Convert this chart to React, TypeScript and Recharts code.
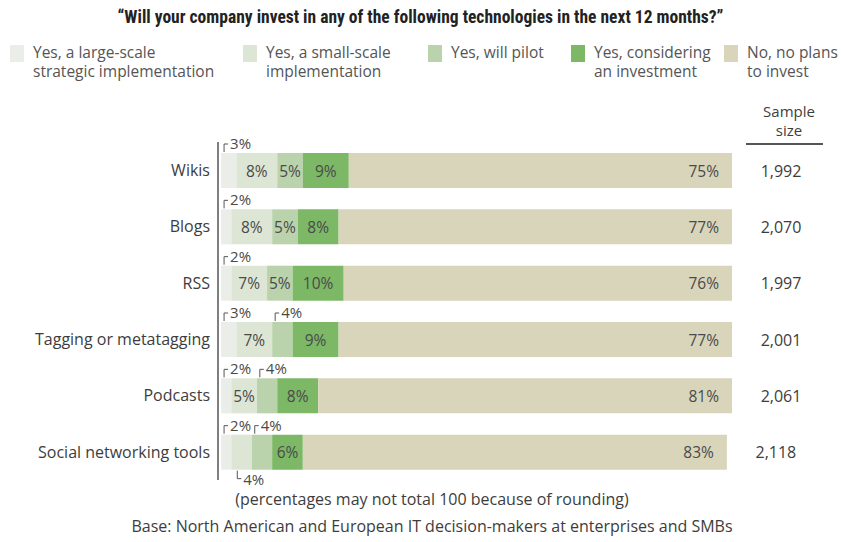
import React from 'react';
import { BarChart, Bar, XAxis, YAxis, LabelList } from 'recharts';

const categories = ['Wikis', 'Blogs', 'RSS', 'Tagging or metatagging', 'Podcasts', 'Social networking tools'];
const largeScale = [3, 2, 2, 3, 2, 2];
const smallScale = [8, 8, 7, 7, 5, 4];
const willPilot = [5, 5, 5, 4, 4, 4];
const considering = [9, 8, 10, 9, 8, 6];
const noPlans = [75, 77, 76, 77, 81, 83];
const sampleSizes = ['1,992', '2,070', '1,997', '2,001', '2,061', '2,118'];

const SERIES = [
  { key: 'large', name: 'Yes, a large-scale\nstrategic implementation', color: '#ebeee8' },
  { key: 'small', name: 'Yes, a small-scale\nimplementation', color: '#dde6d5' },
  { key: 'pilot', name: 'Yes, will pilot', color: '#bad3ac' },
  { key: 'consider', name: 'Yes, considering\nan investment', color: '#7cb866' },
  { key: 'no', name: 'No, no plans\nto invest', color: '#d8d5bb' },
];

const data = categories.map((name, i) => ({
  name,
  large: largeScale[i],
  small: smallScale[i],
  pilot: willPilot[i],
  consider: considering[i],
  no: noPlans[i],
  sample: sampleSizes[i],
}));

const FONT = '"Open Sans", "Noto Sans", sans-serif';
const TEXT = '#3d3d3d';
const SMALL = 5; // below this a label goes outside the bar

// small labels go above the bar, unless the segment before was also put above
const placement = (row: any, idx: number): 'in' | 'up' | 'down' => {
  const keys = SERIES.map(s => s.key);
  let prev: 'in' | 'up' | 'down' | null = null;
  for (let k = 0; k <= idx; k++) {
    const v = row[keys[k]];
    let p: 'in' | 'up' | 'down' = v >= SMALL ? 'in' : 'up';
    if (p === 'up' && prev === 'up') p = 'down';
    prev = p;
  }
  return prev as any;
};

const makeLabel = (seriesIdx: number) => (props: any) => {
  const { x, y, width, height, value, index } = props;
  const row = data[index];
  const where = placement(row, seriesIdx);
  const txt = `${value}%`;
  if (where === 'in') {
    const isLast = seriesIdx === SERIES.length - 1;
    return (
      <text
        x={isLast ? x + width - 13 : x + width / 2}
        y={y + height / 2}
        textAnchor={isLast ? 'end' : 'middle'}
        dominantBaseline="central"
        fontSize={15.5}
        fontFamily={FONT}
        fill="#4a4a4a"
      >
        {txt}
      </text>
    );
  }
  if (where === 'up') {
    const bx = x + 3;
    return (
      <g>
        <path d={`M${bx},${y - 1} V${y - 9} H${bx + 4}`} stroke="#555" strokeWidth={1} fill="none" />
        <text x={bx + 6} y={y - 4} fontSize={15} fontFamily={FONT} fill="#4a4a4a">{txt}</text>
      </g>
    );
  }
  const bx = x + 6;
  const by = y + height;
  return (
    <g>
      <path d={`M${bx},${by + 1} V${by + 9} H${bx + 4}`} stroke="#555" strokeWidth={1} fill="none" />
      <text x={bx + 6} y={by + 15} fontSize={15} fontFamily={FONT} fill="#4a4a4a">{txt}</text>
    </g>
  );
};

const SampleLabel = (props: any) => {
  const { x, y, width, height, index } = props;
  return (
    <text
      x={x + width + 49}
      y={y + height / 2}
      textAnchor="middle"
      dominantBaseline="central"
      fontSize={16}
      fontFamily={FONT}
      fill={TEXT}
    >
      {data[index].sample}
    </text>
  );
};

const LEGEND_LEFT = [10, 243, 428, 571, 724];

const LegendBlock = () => (
  <div style={{ position: 'absolute', left: 0, top: 43, width: 841, height: 40, fontSize: 15.5, color: '#555' }}>
    {SERIES.map((s, i) => (
      <div key={s.key} style={{ position: 'absolute', left: LEGEND_LEFT[i], top: 0, display: 'flex' }}>
        <div style={{ width: 14, height: 17, background: s.color, marginTop: 2 }} />
        <div style={{ marginLeft: 9, whiteSpace: 'pre', lineHeight: '19px' }}>{s.name}</div>
      </div>
    ))}
  </div>
);

export default function App() {
  return (
    <div style={{ position: 'absolute', left: 0, top: 0, width: 841, height: 542, background: '#fff', fontFamily: FONT }}>
      <div
        style={{
          position: 'absolute',
          top: 7,
          left: 0,
          width: 841,
          textAlign: 'center',
          fontFamily: '"Liberation Sans Narrow", "Roboto Condensed", "Open Sans", sans-serif',
          fontWeight: 'bold',
          fontSize: 17.5,
          color: '#222',
        }}
      >
        “Will your company invest in any of the following technologies in the next 12 months?”
      </div>

      <LegendBlock />

      <div style={{ position: 'absolute', left: 0, top: 0 }}>
        <BarChart
          width={841}
          height={542}
          data={data}
          layout="vertical"
          margin={{ top: 142, right: 109, bottom: 62, left: 0 }}
        >
          <XAxis type="number" domain={[-0.6, 100]} allowDataOverflow hide />
          <YAxis
            type="category"
            dataKey="name"
            width={218}
            axisLine={{ stroke: '#555', strokeWidth: 1.5 }}
            tickLine={false}
            tickSize={0}
            tickMargin={8}
            tick={{ fontSize: 16, fill: TEXT, fontFamily: FONT }}
          />
          {SERIES.map((s, i) => (
            <Bar
              key={s.key}
              dataKey={s.key}
              name={s.name}
              stackId="a"
              fill={s.color}
              barSize={35}
              isAnimationActive={false}
            >
              <LabelList dataKey={s.key} content={makeLabel(i)} />
              {i === SERIES.length - 1 && <LabelList dataKey="sample" content={SampleLabel} />}
            </Bar>
          ))}
        </BarChart>
      </div>

      <div style={{ position: 'absolute', left: 745, top: 102, width: 88, textAlign: 'center', fontSize: 15, lineHeight: '18px', color: TEXT }}>
        Sample
      </div>
      <div style={{ position: 'absolute', left: 745, top: 121, width: 88, textAlign: 'center', fontSize: 15, lineHeight: '18px', color: TEXT }}>
        size
      </div>
      <div style={{ position: 'absolute', left: 746, top: 143, width: 77, height: 1.5, background: '#555' }} />

      <div style={{ position: 'absolute', left: 0, top: 488, width: 864, textAlign: 'center', fontSize: 16, color: TEXT }}>
        (percentages may not total 100 because of rounding)
      </div>
      <div style={{ position: 'absolute', left: 0, top: 515, width: 864, textAlign: 'center', fontSize: 16, color: TEXT }}>
        Base: North American and European IT decision-makers at enterprises and SMBs
      </div>
    </div>
  );
}
